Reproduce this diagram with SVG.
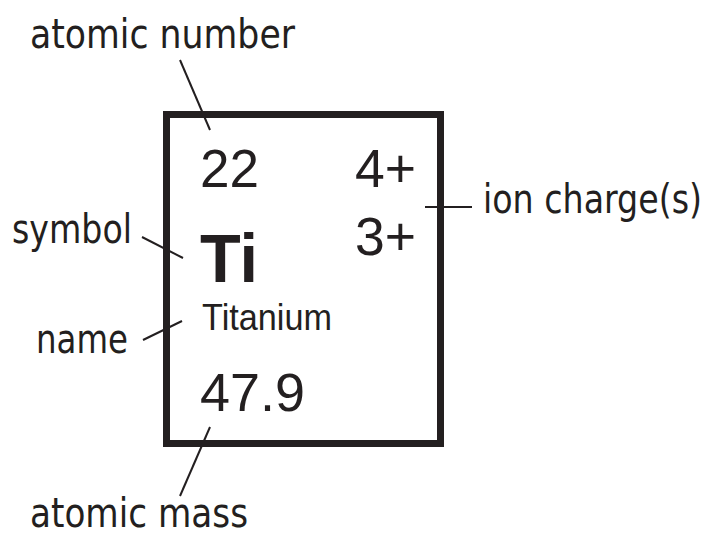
<svg xmlns="http://www.w3.org/2000/svg" width="711" height="535" viewBox="0 0 711 535">
<style>
.lbl{font-family:"DejaVu Sans Condensed","Open Sans",sans-serif;font-size:41px;fill:#231f20}
.el{font-family:"Liberation Sans",Arial,sans-serif;fill:#231f20}
.ln{stroke:#231f20;stroke-width:2;fill:none}
</style>
<rect width="711" height="535" fill="#fff"/>
<g id="tile">
<rect x="166.5" y="114.5" width="274" height="329" fill="none" stroke="#231f20" stroke-width="7"/>
<text class="el" x="200" y="187" font-size="53" textLength="59" lengthAdjust="spacingAndGlyphs">22</text>
<text class="el" x="355" y="187" font-size="53" textLength="61" lengthAdjust="spacingAndGlyphs">4+</text>
<text class="el" x="355" y="255" font-size="53" textLength="61" lengthAdjust="spacingAndGlyphs">3+</text>
<text class="el" x="200" y="282" font-size="68" font-weight="bold" textLength="58" lengthAdjust="spacingAndGlyphs">Ti</text>
<text class="el" x="202" y="330" font-size="37" textLength="130" lengthAdjust="spacingAndGlyphs">Titanium</text>
<text class="el" x="200" y="411" font-size="53" textLength="105" lengthAdjust="spacingAndGlyphs">47.9</text>
</g>
<g id="label-atomic-number"><text class="lbl" x="30" y="48" textLength="265" lengthAdjust="spacingAndGlyphs">atomic number</text></g>
<g id="label-symbol"><text class="lbl" x="12" y="243" textLength="120" lengthAdjust="spacingAndGlyphs">symbol</text></g>
<g id="label-name"><text class="lbl" x="36" y="353" textLength="92" lengthAdjust="spacingAndGlyphs">name</text></g>
<g id="label-ion-charge"><text class="lbl" x="483" y="213" textLength="219" lengthAdjust="spacingAndGlyphs">ion charge(s)</text></g>
<g id="label-atomic-mass"><text class="lbl" x="30" y="527" textLength="218" lengthAdjust="spacingAndGlyphs">atomic mass</text></g>
<g id="connectors">
<line class="ln" x1="180" y1="60" x2="210" y2="130"/>
<line class="ln" x1="142" y1="237" x2="183" y2="258"/>
<line class="ln" x1="143" y1="340" x2="182" y2="321"/>
<line class="ln" x1="425" y1="207" x2="472" y2="207"/>
<line class="ln" x1="210" y1="427" x2="180" y2="496"/>
</g>
</svg>
